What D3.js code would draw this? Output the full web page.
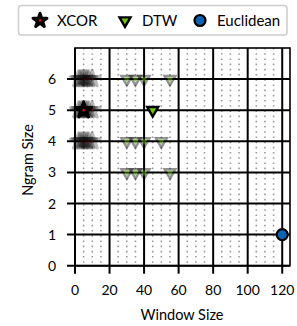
<!DOCTYPE html>
<html><head><meta charset="utf-8">
<script src="https://cdn.jsdelivr.net/npm/d3@7"></script>
<style>body{margin:0;background:#fff}svg{display:block;font-family:Lato,"Open Sans",sans-serif}</style>
</head><body><svg id="c" width="297" height="326"></svg>
<script>
const xTicks = [0, 20, 40, 60, 80, 100, 120];
const yTicks = [0, 1, 2, 3, 4, 5, 6];
// faded (all runs) points
const xcorAllX = [2, 3, 4, 5, 6, 7, 8, 10, 2, 3, 4, 5, 6, 7, 8, 10, 2, 3, 4, 5, 6, 7, 8, 10];
const xcorAllY = [6, 6, 6, 6, 6, 6, 6, 6, 5, 5, 5, 5, 5, 5, 5, 5, 4, 4, 4, 4, 4, 4, 4, 4];
const dtwAllX = [30, 35, 40, 55, 30, 35, 40, 50, 30, 35, 40, 55];
const dtwAllY = [6, 6, 6, 6, 4, 4, 4, 4, 3, 3, 3, 3];
// best points
const xcorBest = [[5, 5]];
const dtwBest = [[45, 5]];
const euclidBest = [[120, 1]];
const legendLabels = ["XCOR", "DTW", "Euclidean"];

const svg = d3.select("#c");
const L = 75, R = 290, T = 48, B = 265.7;
const x = d3.scaleLinear().domain([0, 124.5]).range([L, R]);
const y = d3.scaleLinear().domain([0, 7]).range([B, T]);
const green = "#6cc70a", blue = "#0c63b4", red = "#e0141e";

const g = svg.append("g");
const minor = d3.range(5, 125, 5).filter(v => v % 20 !== 0);
g.selectAll(".mn").data(minor).join("line")
  .attr("x1", d => x(d)).attr("x2", d => x(d)).attr("y1", T).attr("y2", B)
  .attr("stroke", "#9a9a9a").attr("stroke-width", 1.6).attr("stroke-dasharray", "1.6,3.6");
g.selectAll(".vx").data(xTicks).join("line")
  .attr("x1", d => x(d)).attr("x2", d => x(d)).attr("y1", T).attr("y2", B + 8)
  .attr("stroke", "#000").attr("stroke-width", 2);
g.selectAll(".hy").data(yTicks).join("line")
  .attr("y1", d => y(d)).attr("y2", d => y(d)).attr("x1", L - 8).attr("x2", R)
  .attr("stroke", "#000").attr("stroke-width", 2);
g.append("rect").attr("x", L).attr("y", T).attr("width", R - L).attr("height", B - T)
  .attr("fill", "none").attr("stroke", "#000").attr("stroke-width", 1.6);

svg.selectAll(".xt").data(xTicks).join("text")
  .attr("x", d => x(d)).attr("y", 295).attr("text-anchor", "middle")
  .attr("font-size", 14).text(d => d);
svg.selectAll(".yt").data(yTicks).join("text")
  .attr("x", 56).attr("y", d => y(d) + 5).attr("text-anchor", "end")
  .attr("font-size", 14).text(d => d);
svg.append("text").attr("x", 182).attr("y", 320).attr("text-anchor", "middle")
  .attr("font-size", 14.5).text("Window Size");
svg.append("text").attr("transform", "translate(33,160) rotate(-90)").attr("text-anchor", "middle")
  .attr("font-size", 14.5).text("Ngram Size");

const starBig = d3.symbol(d3.symbolStar, 78)();
const starLeg = d3.symbol(d3.symbolStar, 60)();
const tri = d3.symbol(d3.symbolTriangle, 52)();
const circ = d3.symbol(d3.symbolCircle, 95)();

function drawMark(sel, kind, leg) {
  if (kind === "star") {
    sel.append("path").attr("d", leg ? starLeg : starBig).attr("fill", "#000").attr("stroke", "#000")
      .attr("stroke-width", 3).attr("stroke-linejoin", "round");
    sel.append("circle").attr("r", 1.2).attr("fill", red);
  } else if (kind === "tri") {
    sel.append("path").attr("d", tri).attr("transform", "rotate(180)").attr("fill", green)
      .attr("stroke", "#000").attr("stroke-width", 2.4);
  } else {
    sel.append("path").attr("d", circ).attr("fill", blue).attr("stroke", "#000").attr("stroke-width", 2.2);
  }
}
function marks(xs, ys, kind, op) {
  svg.append("g").selectAll("g").data(xs.map((v, i) => [v, ys[i]])).join("g")
    .attr("transform", d => `translate(${x(d[0])},${y(d[1])})`)
    .attr("opacity", op)
    .each(function () { drawMark(d3.select(this), kind, false); });
}
marks(xcorAllX, xcorAllY, "star", 0.28);
marks(dtwAllX, dtwAllY, "tri", 0.42);
marks(xcorBest.map(d => d[0]), xcorBest.map(d => d[1]), "star", 1);
marks(dtwBest.map(d => d[0]), dtwBest.map(d => d[1]), "tri", 1);
marks(euclidBest.map(d => d[0]), euclidBest.map(d => d[1]), "circ", 1);

const lg = svg.append("g");
lg.append("rect").attr("x", 18.5).attr("y", 5.5).attr("width", 268.5).attr("height", 29.5)
  .attr("rx", 3).attr("fill", "#fff").attr("stroke", "#cccccc").attr("stroke-width", 1.5);
const legX = [40, 125, 200];
const legTX = [57, 142, 217];
const kinds = ["star", "tri", "circ"];
legendLabels.forEach((lab, i) => {
  drawMark(lg.append("g").attr("transform", `translate(${legX[i]},20.5)`), kinds[i], true);
  lg.append("text").attr("x", legTX[i]).attr("y", 25.5).attr("font-size", 15).text(lab);
});
</script></body></html>
